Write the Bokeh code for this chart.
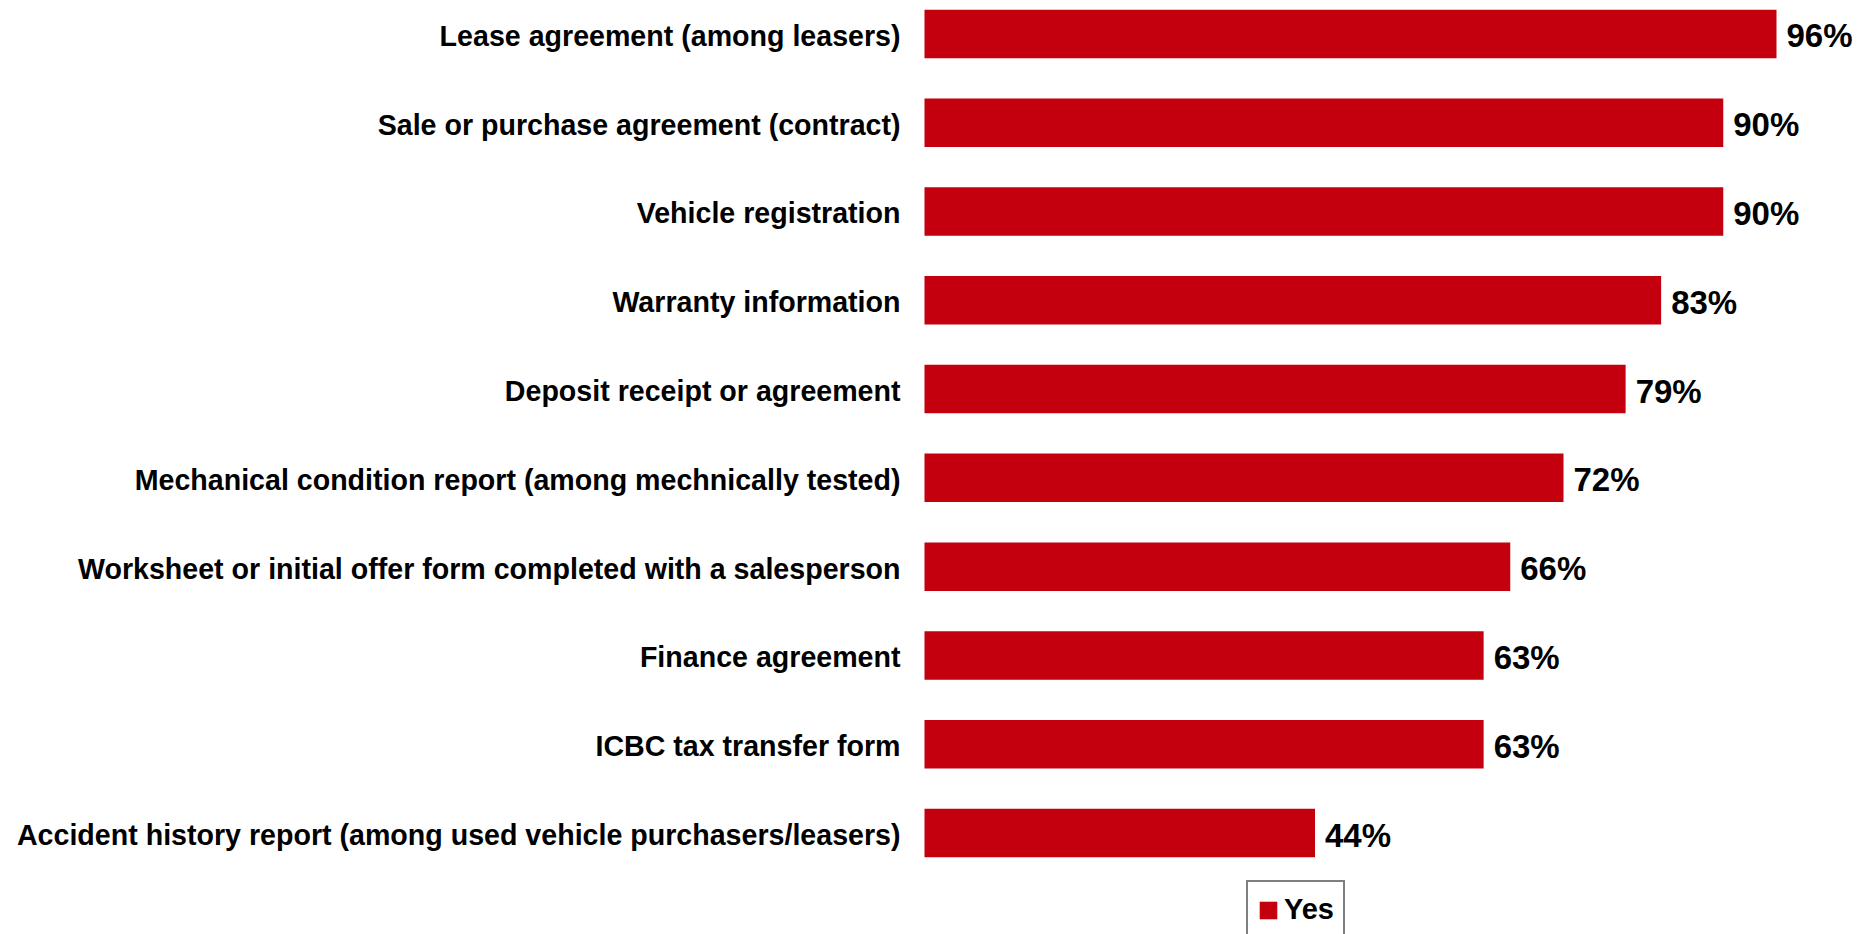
from bokeh.plotting import figure
from bokeh.models import ColumnDataSource, Range1d, Legend, LegendItem
from bokeh.core.properties import value
from bokeh.embed import file_html
from bokeh.resources import INLINE

categories = [
    "Lease agreement (among leasers)",
    "Sale or purchase agreement (contract)",
    "Vehicle registration",
    "Warranty information",
    "Deposit receipt or agreement",
    "Mechanical condition report (among mechnically tested)",
    "Worksheet or initial offer form completed with a salesperson",
    "Finance agreement",
    "ICBC tax transfer form",
    "Accident history report (among used vehicle purchasers/leasers)",
]
yes_values = [96, 90, 90, 83, 79, 72, 66, 63, 63, 44]
value_labels = [f"{v}%" for v in yes_values]
series_name = "Yes"

BAR_COLOR = "#C4000F"
FONT = "Liberation Sans"

n = len(categories)
ypos = [n - 1 - i for i in range(n)]

src = ColumnDataSource(dict(cat=categories, val=yes_values, lab=value_labels, y=ypos,
                            zero=[0] * n))

W, H = 1857, 934
px_per_unit = 8.875
x0_px = 924.0
row_px = 88.79
top_center_px = 33.4

x_start = -x0_px / px_per_unit
x_end = (W - x0_px) / px_per_unit
y_end = (n - 1) + top_center_px / row_px
y_start = y_end - H / row_px

p = figure(width=W, height=H, x_range=Range1d(x_start, x_end), y_range=Range1d(y_start, y_end),
           toolbar_location=None, output_backend="svg", min_border=0)
p.axis.visible = False
p.grid.visible = False
p.outline_line_color = None
p.background_fill_color = "white"
p.border_fill_color = "white"

bars = p.hbar(y="y", left="zero", right="val", height=0.546, source=src,
              fill_color=BAR_COLOR, line_color=None)

p.text(x="zero", y="y", text="cat", source=src, x_offset=-24, y_offset=2,
       text_align="right", text_baseline="middle", text_font=value(FONT),
       text_font_style="bold", text_font_size="28.6px", text_color="black")

p.text(x="val", y="y", text="lab", source=src, x_offset=10, y_offset=2,
       text_align="left", text_baseline="middle", text_font=value(FONT),
       text_font_style="bold", text_font_size="33px", text_color="black")

legend = Legend(items=[LegendItem(label=series_name, renderers=[bars])],
                location=(1246, -5), orientation="horizontal",
                padding=9, margin=0, spacing=0,
                glyph_width=22, glyph_height=22, label_standoff=5, label_height=37,
                label_text_font=FONT, label_text_font_style="bold",
                label_text_font_size="29px", label_text_color="black",
                border_line_color="black", border_line_width=2,
                background_fill_color="white", background_fill_alpha=1.0)
p.add_layout(legend, "center")

open("out.html", "w").write(file_html(p, INLINE))
